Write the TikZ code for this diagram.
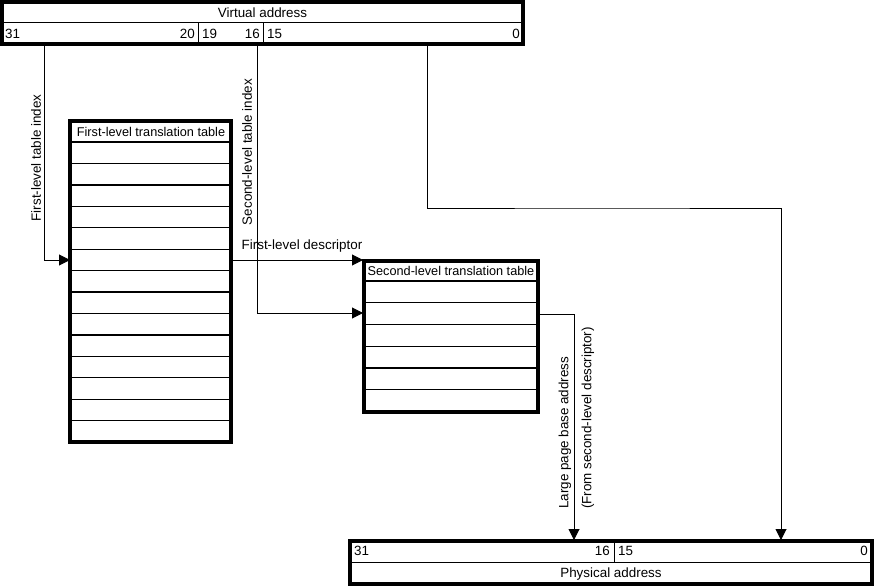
\documentclass[tikz,border=0pt]{standalone}
\usepackage{fontspec}
\setmainfont{Liberation Sans}
\usetikzlibrary{arrows.meta}
\begin{document}
\begin{tikzpicture}[x=1pt,y=-1pt,
  every node/.style={font=\fontsize{13.4}{15}\selectfont, inner sep=0pt},
  hdr/.style={font=\fontsize{12.7}{15}\selectfont},
  thickbox/.style={draw, line width=4pt},
  thin/.style={line width=1pt},
  rowline/.style={line width=1.3pt},
  conn/.style={line width=1pt},
  arr/.style={conn, -{Triangle[length=11pt,width=11pt]}},
  lbl/.style={rotate=90}
]
\useasboundingbox (0,0) rectangle (876,586);

% ---------------- Virtual address ----------------
\node[thickbox, minimum width=521pt, minimum height=42pt] (va) at (262.5,23) {};
\draw[thin] (va.west |- 0,23) -- (va.east |- 0,23);
\draw[thin] (198,23) -- (198,44);
\draw[thin] (263,23) -- (263,44);
\node (vat) at (262.5,12.5) {Virtual address};
\node[anchor=west] (b31) at (5,34) {31};
\node[anchor=east] (b20) at (195,34) {20};
\node[anchor=west] (b19) at (202,34) {19};
\node[anchor=east] (b16) at (260,34) {16};
\node[anchor=west] (b15) at (267,34) {15};
\node[anchor=east] (b0) at (520,34) {0};
\coordinate (s1) at (44,44);
\coordinate (s2) at (257,44);
\coordinate (s3) at (427,44);

% ---------------- First-level table ----------------
\node[thickbox, minimum width=161pt, minimum height=321pt] (t1) at (150.5,281.5) {};
\node[hdr] (t1h) at (151,131.5) {First-level translation table};
\foreach \k in {0,...,13} {
  \draw[rowline] (70,142+\k*21.43) -- (231,142+\k*21.43);
}
\coordinate (t1in) at (70,260);
\coordinate (t1out) at (231,260);

% ---------------- Second-level table ----------------
\node[thickbox, minimum width=174pt, minimum height=150.5pt] (t2) at (450.5,336.25) {};
\node[hdr] (t2h) at (451,271) {Second-level translation table};
\foreach \k in {0,...,5} {
  \draw[rowline] (363.5,281+\k*21.75) -- (537.5,281+\k*21.75);
}
\coordinate (t2a) at (363,260);
\coordinate (t2b) at (363,313);
\coordinate (t2out) at (537.5,314);

% ---------------- Physical address ----------------
\node[thickbox, minimum width=522pt, minimum height=43pt] (pa) at (611,562) {};
\draw[thin] (350,562) -- (872,562);
\draw[thin] (614,540) -- (614,562);
\node (pat) at (611,574) {Physical address};
\node[anchor=west] (p31) at (354,551) {31};
\node[anchor=east] (p16) at (610,551) {16};
\node[anchor=west] (p15) at (618,551) {15};
\node[anchor=east] (p0) at (868,551) {0};
\coordinate (pin1) at (574,540);
\coordinate (pin2) at (781,540);

% ---------------- Connectors ----------------
\draw[arr] (s1) |- (t1in);
\node[lbl] (l1) at (36,158) {First-level table index};

\draw[arr] (t1out) -- (t2a);
\node (l2) at (302,246) {First-level descriptor};

\draw[arr] (s2) |- (t2b);
\node[lbl] (l3) at (247,152) {Second-level table index};

\draw[arr] (t2out) -| (pin1);
\node[lbl, anchor=west] (l4) at (565,509) {Large page base address};
\node[lbl, anchor=west] (l5) at (588,509) {(From second-level descriptor)};

\draw[arr] (s3) |- (600,208) -| (pin2);
\end{tikzpicture}
\end{document}
